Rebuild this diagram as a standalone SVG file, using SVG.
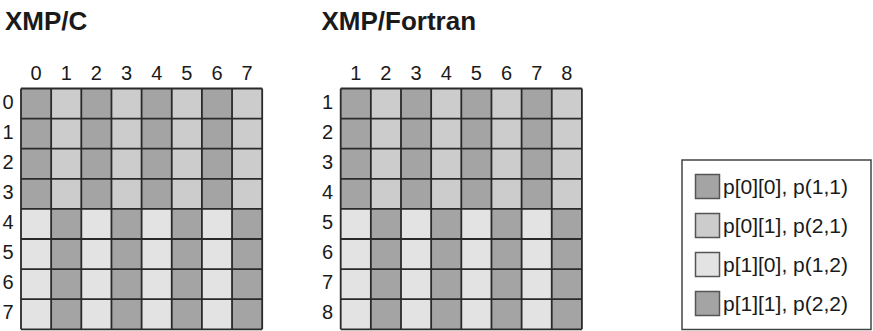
<svg xmlns="http://www.w3.org/2000/svg" xmlns:xlink="http://www.w3.org/1999/xlink" width="873" height="331" viewBox="0 0 873 331">
<style>
.title{font-family:"Liberation Sans",Arial,sans-serif;font-weight:bold;font-size:26px;fill:#1a1a1a}
.lab{font-family:"Liberation Sans",Arial,sans-serif;font-size:20px;fill:#1a1a1a;text-anchor:middle}
.leg{font-family:"Liberation Sans",Arial,sans-serif;font-size:21px;fill:#1a1a1a}
.d{fill:#a4a4a4}
.m{fill:#cccccc}
.l{fill:#e3e3e3}
.gl{fill:none;stroke:#2a2a2a;stroke-width:1.8}
.sw{stroke:#555;stroke-width:1.5}
</style>
<defs>
<g id="rowA">
<rect class="d" x="0" y="0" width="30.15" height="30.1"/>
<rect class="m" x="30.15" y="0" width="30.15" height="30.1"/>
<rect class="d" x="60.3" y="0" width="30.15" height="30.1"/>
<rect class="m" x="90.45" y="0" width="30.15" height="30.1"/>
<rect class="d" x="120.6" y="0" width="30.15" height="30.1"/>
<rect class="m" x="150.75" y="0" width="30.15" height="30.1"/>
<rect class="d" x="180.9" y="0" width="30.15" height="30.1"/>
<rect class="m" x="211.05" y="0" width="30.15" height="30.1"/>
</g>
<g id="rowB">
<rect class="l" x="0" y="0" width="30.15" height="30.1"/>
<rect class="d" x="30.15" y="0" width="30.15" height="30.1"/>
<rect class="l" x="60.3" y="0" width="30.15" height="30.1"/>
<rect class="d" x="90.45" y="0" width="30.15" height="30.1"/>
<rect class="l" x="120.6" y="0" width="30.15" height="30.1"/>
<rect class="d" x="150.75" y="0" width="30.15" height="30.1"/>
<rect class="l" x="180.9" y="0" width="30.15" height="30.1"/>
<rect class="d" x="211.05" y="0" width="30.15" height="30.1"/>
</g>
<g id="grid">
<use xlink:href="#rowA" y="0"/>
<use xlink:href="#rowA" y="30.1"/>
<use xlink:href="#rowA" y="60.2"/>
<use xlink:href="#rowA" y="90.3"/>
<use xlink:href="#rowB" y="120.4"/>
<use xlink:href="#rowB" y="150.5"/>
<use xlink:href="#rowB" y="180.6"/>
<use xlink:href="#rowB" y="210.7"/>
<path class="gl" d="M0,0V240.8M30.15,0V240.8M60.3,0V240.8M90.45,0V240.8M120.6,0V240.8M150.75,0V240.8M180.9,0V240.8M211.05,0V240.8M241.2,0V240.8M0,0H241.2M0,30.1H241.2M0,60.2H241.2M0,90.3H241.2M0,120.4H241.2M0,150.5H241.2M0,180.6H241.2M0,210.7H241.2M0,240.8H241.2"/>
</g>
</defs>

<g id="xmp-c">
<text class="title" x="5" y="29.5">XMP/C</text>
<g id="c-col-labels">
<text class="lab" x="36.1" y="80">0</text>
<text class="lab" x="66.2" y="80">1</text>
<text class="lab" x="96.4" y="80">2</text>
<text class="lab" x="126.5" y="80">3</text>
<text class="lab" x="156.7" y="80">4</text>
<text class="lab" x="186.8" y="80">5</text>
<text class="lab" x="217" y="80">6</text>
<text class="lab" x="247.1" y="80">7</text>
</g>
<g id="c-row-labels">
<text class="lab" x="8" y="108.5">0</text>
<text class="lab" x="8" y="138.6">1</text>
<text class="lab" x="8" y="168.7">2</text>
<text class="lab" x="8" y="198.8">3</text>
<text class="lab" x="8" y="228.9">4</text>
<text class="lab" x="8" y="259">5</text>
<text class="lab" x="8" y="289.1">6</text>
<text class="lab" x="8" y="319.2">7</text>
</g>
<use id="c-grid" xlink:href="#grid" x="21" y="88.5"/>
</g>

<g id="xmp-fortran">
<text class="title" x="321.5" y="29.5">XMP/Fortran</text>
<g id="f-col-labels">
<text class="lab" x="355.8" y="80">1</text>
<text class="lab" x="385.9" y="80">2</text>
<text class="lab" x="416.1" y="80">3</text>
<text class="lab" x="446.2" y="80">4</text>
<text class="lab" x="476.4" y="80">5</text>
<text class="lab" x="506.5" y="80">6</text>
<text class="lab" x="536.7" y="80">7</text>
<text class="lab" x="566.8" y="80">8</text>
</g>
<g id="f-row-labels">
<text class="lab" x="327.5" y="108.5">1</text>
<text class="lab" x="327.5" y="138.6">2</text>
<text class="lab" x="327.5" y="168.7">3</text>
<text class="lab" x="327.5" y="198.8">4</text>
<text class="lab" x="327.5" y="228.9">5</text>
<text class="lab" x="327.5" y="259">6</text>
<text class="lab" x="327.5" y="289.1">7</text>
<text class="lab" x="327.5" y="319.2">8</text>
</g>
<use id="f-grid" xlink:href="#grid" x="340.7" y="88.5"/>
</g>

<g id="legend">
<rect x="682" y="160" width="189" height="169.5" fill="#fff" stroke="#444" stroke-width="1.5"/>
<rect class="d sw" x="695.5" y="174.5" width="24" height="24"/>
<text class="leg" x="723" y="193.5">p[0][0], p(1,1)</text>
<rect class="m sw" x="695.5" y="213.5" width="24" height="24"/>
<text class="leg" x="723" y="232.5">p[0][1], p(2,1)</text>
<rect class="l sw" x="695.5" y="252.5" width="24" height="24"/>
<text class="leg" x="723" y="271.5">p[1][0], p(1,2)</text>
<rect class="d sw" x="695.5" y="291.5" width="24" height="24"/>
<text class="leg" x="723" y="310.5">p[1][1], p(2,2)</text>
</g>
</svg>
